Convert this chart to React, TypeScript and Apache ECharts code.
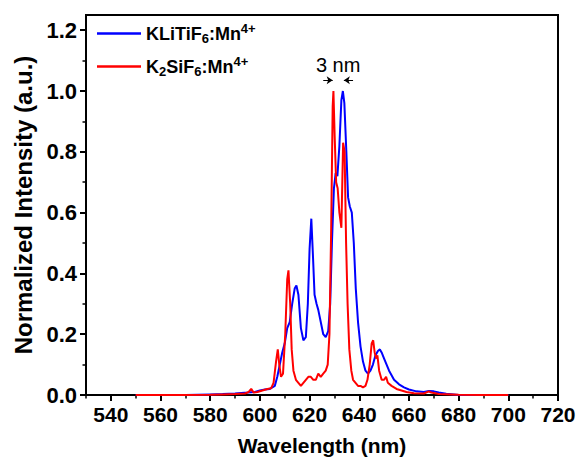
import React, { useEffect, useRef } from "react";
import * as echarts from "echarts";

const FONT = "'Liberation Sans', Arial, sans-serif";

const blueWl = [550, 560, 570, 580, 585, 590, 595, 598, 600, 602, 604, 605, 606, 607, 608, 609, 610, 611, 612, 613, 614, 614.7, 615.5, 616.5, 617.5, 618.5, 619.3, 620, 620.7, 621.4, 622, 622.8, 623.5, 624.5, 625.5, 626.5, 627.5, 628.3, 629, 629.8, 630.5, 631.2, 632, 632.8, 633.4, 634, 634.8, 635.5, 636.2, 637, 637.8, 638.6, 639.5, 640.5, 641.5, 642.5, 643.5, 644.5, 645.5, 646.5, 647.5, 648.3, 649, 650, 651, 652, 653, 654, 656, 658, 660, 663, 666, 668, 670, 672, 675, 678, 680, 690, 700];
const blueVal = [0, 0, 0, 0.002, 0.003, 0.005, 0.008, 0.01, 0.015, 0.018, 0.02, 0.025, 0.03, 0.06, 0.1, 0.14, 0.17, 0.22, 0.24, 0.3, 0.35, 0.36, 0.33, 0.22, 0.18, 0.19, 0.3, 0.48, 0.58, 0.45, 0.33, 0.3, 0.28, 0.24, 0.2, 0.19, 0.21, 0.3, 0.5, 0.68, 0.73, 0.72, 0.82, 0.97, 1.0, 0.96, 0.8, 0.65, 0.62, 0.6, 0.5, 0.35, 0.24, 0.16, 0.11, 0.08, 0.07, 0.08, 0.1, 0.13, 0.145, 0.15, 0.14, 0.12, 0.1, 0.08, 0.065, 0.05, 0.035, 0.025, 0.018, 0.012, 0.01, 0.013, 0.012, 0.008, 0.004, 0.002, 0, 0, 0];

const redWl = [550, 560, 570, 580, 585, 590, 594, 595.5, 596.5, 597.5, 599, 601, 603, 604.5, 605.5, 606.5, 607.2, 607.8, 608.5, 609.3, 610.2, 611, 611.5, 612.2, 612.8, 613.5, 614.5, 615.5, 616.5, 617.5, 618.5, 619.5, 620.5, 621.5, 622.5, 623.5, 624.5, 625.5, 626.5, 627.3, 628, 628.7, 629.3, 629.6, 630.1, 630.7, 631.3, 632, 632.8, 633.5, 634.1, 634.7, 635.3, 636, 636.8, 637.5, 638.5, 639.5, 640.5, 641.5, 642.5, 643.3, 644.2, 645, 645.6, 646.2, 646.8, 647.3, 648, 649, 650, 650.8, 651.5, 653, 655, 657, 659, 662, 666, 668, 669, 672, 680, 690, 700];
const redVal = [0, 0, 0, 0.001, 0.002, 0.003, 0.005, 0.01, 0.02, 0.008, 0.01, 0.015, 0.02, 0.022, 0.04, 0.11, 0.15, 0.1, 0.06, 0.07, 0.2, 0.38, 0.41, 0.3, 0.15, 0.08, 0.05, 0.04, 0.03, 0.04, 0.05, 0.06, 0.06, 0.05, 0.05, 0.07, 0.06, 0.07, 0.08, 0.1, 0.2, 0.55, 0.95, 1.0, 0.85, 0.7, 0.68, 0.6, 0.55, 0.83, 0.8, 0.5, 0.3, 0.15, 0.08, 0.05, 0.04, 0.03, 0.03, 0.025, 0.03, 0.05, 0.1, 0.17, 0.18, 0.14, 0.12, 0.13, 0.08, 0.05, 0.05, 0.06, 0.04, 0.03, 0.02, 0.015, 0.01, 0.006, 0.005, 0.012, 0.008, 0.003, 0.001, 0, 0];

const xMajor = [540, 560, 580, 600, 620, 640, 660, 680, 700, 720];
const xMinor = [530, 550, 570, 590, 610, 630, 650, 670, 690, 710];
const yMajor = [0, 0.2, 0.4, 0.6, 0.8, 1.0, 1.2];
const yMinor = [0.1, 0.3, 0.5, 0.7, 0.9, 1.1];

const seriesNames = ["KLiTiF6:Mn4+", "K2SiF6:Mn4+"];
const legendRich: Record<string, string> = {
  "KLiTiF6:Mn4+": "{b|KLiTiF}{sub|6}{b|:Mn}{sup|4+}",
  "K2SiF6:Mn4+": "{b|K}{sub|2}{b|SiF}{sub|6}{b|:Mn}{sup|4+}",
};

const gapLabel = "3 nm";
const gapY = 1.035;
const gapArrows = [
  [625.5, 629.3],
  [637.5, 633.8],
];

export default function App() {
  const ref = useRef<HTMLDivElement>(null);
  useEffect(() => {
    if (!ref.current) return;
    const chart = echarts.init(ref.current, undefined, { renderer: "svg" });
    const labelStyle = {
      color: "#000",
      fontFamily: FONT,
      fontWeight: "bold" as const,
      fontSize: 21,
    };
    chart.setOption({
      animation: false,
      backgroundColor: "#fff",
      grid: {
        left: 86,
        right: 24,
        top: 15,
        bottom: 73,
        show: true,
        borderColor: "#000",
        borderWidth: 2,
      },
      legend: {
        orient: "vertical",
        left: 92,
        top: 17,
        icon: "rect",
        itemWidth: 44,
        itemHeight: 2.5,
        itemGap: 10,
        data: seriesNames,
        formatter: (n: string) => legendRich[n],
        textStyle: {
          color: "#000",
          fontFamily: FONT,
          rich: {
            b: { fontSize: 18, fontWeight: "bold", fontFamily: FONT, color: "#000" },
            sub: { fontSize: 13, fontWeight: "bold", fontFamily: FONT, color: "#000", padding: [10, 0, 0, 0] },
            sup: { fontSize: 13, fontWeight: "bold", fontFamily: FONT, color: "#000", padding: [0, 0, 10, 0] },
          },
        },
      },
      xAxis: [
        {
          type: "value",
          min: 530,
          max: 720,
          position: "bottom",
          name: "Wavelength (nm)",
          nameLocation: "middle",
          nameGap: 40,
          nameTextStyle: { ...labelStyle, fontSize: 21 },
          axisLine: { onZero: false, lineStyle: { color: "#000", width: 2 } },
          axisTick: { customValues: xMajor, length: 6, lineStyle: { color: "#000", width: 2 } },
          axisLabel: { customValues: xMajor, margin: 9, ...labelStyle },
          splitLine: { show: false },
        },
        {
          type: "value",
          min: 530,
          max: 720,
          position: "bottom",
          axisLine: { show: false },
          axisTick: { customValues: xMinor, length: 3.5, lineStyle: { color: "#000", width: 1.5 } },
          axisLabel: { show: false },
          splitLine: { show: false },
        },
      ],
      yAxis: [
        {
          type: "value",
          min: 0,
          max: 1.25,
          position: "left",
          name: "Normalized Intensity (a.u.)",
          nameLocation: "middle",
          nameGap: 43,
          nameTextStyle: { ...labelStyle, fontSize: 24 },
          axisLine: { show: true, onZero: false, lineStyle: { color: "#000", width: 2 } },
          axisTick: { show: true, customValues: yMajor, length: 6, lineStyle: { color: "#000", width: 2 } },
          axisLabel: {
            customValues: yMajor,
            margin: 9,
            ...labelStyle,
            fontSize: 22,
            formatter: (v: number) => v.toFixed(1),
          },
          splitLine: { show: false },
        },
        {
          type: "value",
          min: 0,
          max: 1.25,
          position: "left",
          axisLine: { show: false },
          axisTick: { show: true, customValues: yMinor, length: 3.5, lineStyle: { color: "#000", width: 1.5 } },
          axisLabel: { show: false },
          splitLine: { show: false },
        },
      ],
      series: [
        {
          name: seriesNames[0],
          type: "line",
          symbol: "none",
          xAxisIndex: 0,
          yAxisIndex: 0,
          color: "#0000ff",
          lineStyle: { color: "#0000ff", width: 2 },
          data: blueWl.map((w, i) => [w, blueVal[i]]),
        },
        {
          name: seriesNames[1],
          type: "line",
          symbol: "none",
          xAxisIndex: 0,
          yAxisIndex: 0,
          color: "#ff0000",
          lineStyle: { color: "#ff0000", width: 2 },
          data: redWl.map((w, i) => [w, redVal[i]]),
          markLine: {
            silent: true,
            symbol: ["none", "arrow"],
            symbolSize: 6,
            label: { show: false },
            lineStyle: { color: "#000", width: 1, type: "solid" },
            data: gapArrows.map(([a, b]) => [
              { coord: [a, gapY] },
              { coord: [b, gapY] },
            ]),
          },
          markPoint: {
            silent: true,
            symbolSize: 0,
            data: [
              {
                coord: [631.5, 1.085],
                label: {
                  show: true,
                  position: "inside",
                  formatter: gapLabel,
                  color: "#000",
                  fontFamily: FONT,
                  fontSize: 20,
                },
              },
            ],
          },
        },
      ],
    });
    return () => chart.dispose();
  }, []);
  return (
    <div
      ref={ref}
      style={{ position: "fixed", left: 0, top: 0, width: 582, height: 468, background: "#fff" }}
    />
  );
}
